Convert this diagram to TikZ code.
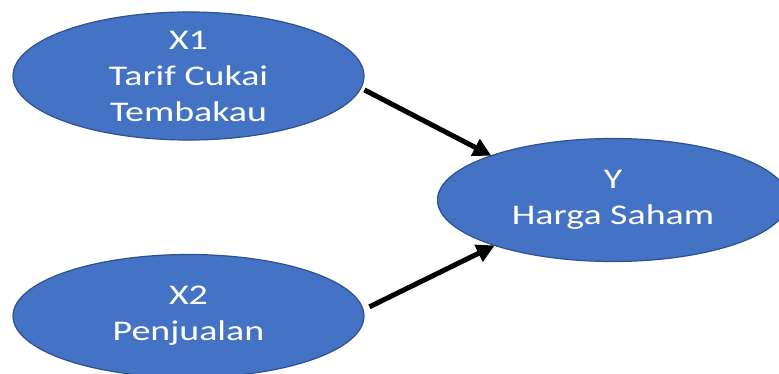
\documentclass[tikz,border=0pt]{standalone}
\usepackage{fontspec}
\usetikzlibrary{shapes.geometric,arrows.meta}
\newfontfamily\calfont[FakeStretch=1.33]{Carlito}
\definecolor{varblue}{HTML}{4472C4}
\definecolor{varedge}{HTML}{2F528F}
\tikzset{
  var/.style={ellipse,fill=varblue,draw=varedge,line width=1.2pt,inner sep=0pt,outer sep=0pt,
    minimum width=351pt,minimum height=123pt,align=center,text=white,
    font=\calfont\fontsize{28.5}{36}\selectfont},
  effect/.style={-{Triangle[length=18pt,width=18pt]},line width=5pt,black}
}
\begin{document}
\begin{tikzpicture}[x=1pt,y=-1pt]
    \useasboundingbox (0,0) rectangle (779,374);
    \clip (0,0) rectangle (779,374);
    \node[var] (x1) at (188.5,76) {X1\\Tarif Cukai\\Tembakau};
    \node[var] (x2) at (188.5,316) {X2\\Penjualan};
    \node[var] (y) at (613,200) {Y\\Harga Saham};
    \draw[effect,shorten <=4pt] (x1.-4) -- (y.160);
    \draw[effect,shorten <=7pt] (x2.2) -- (y.201);
  \end{tikzpicture}
\end{document}
